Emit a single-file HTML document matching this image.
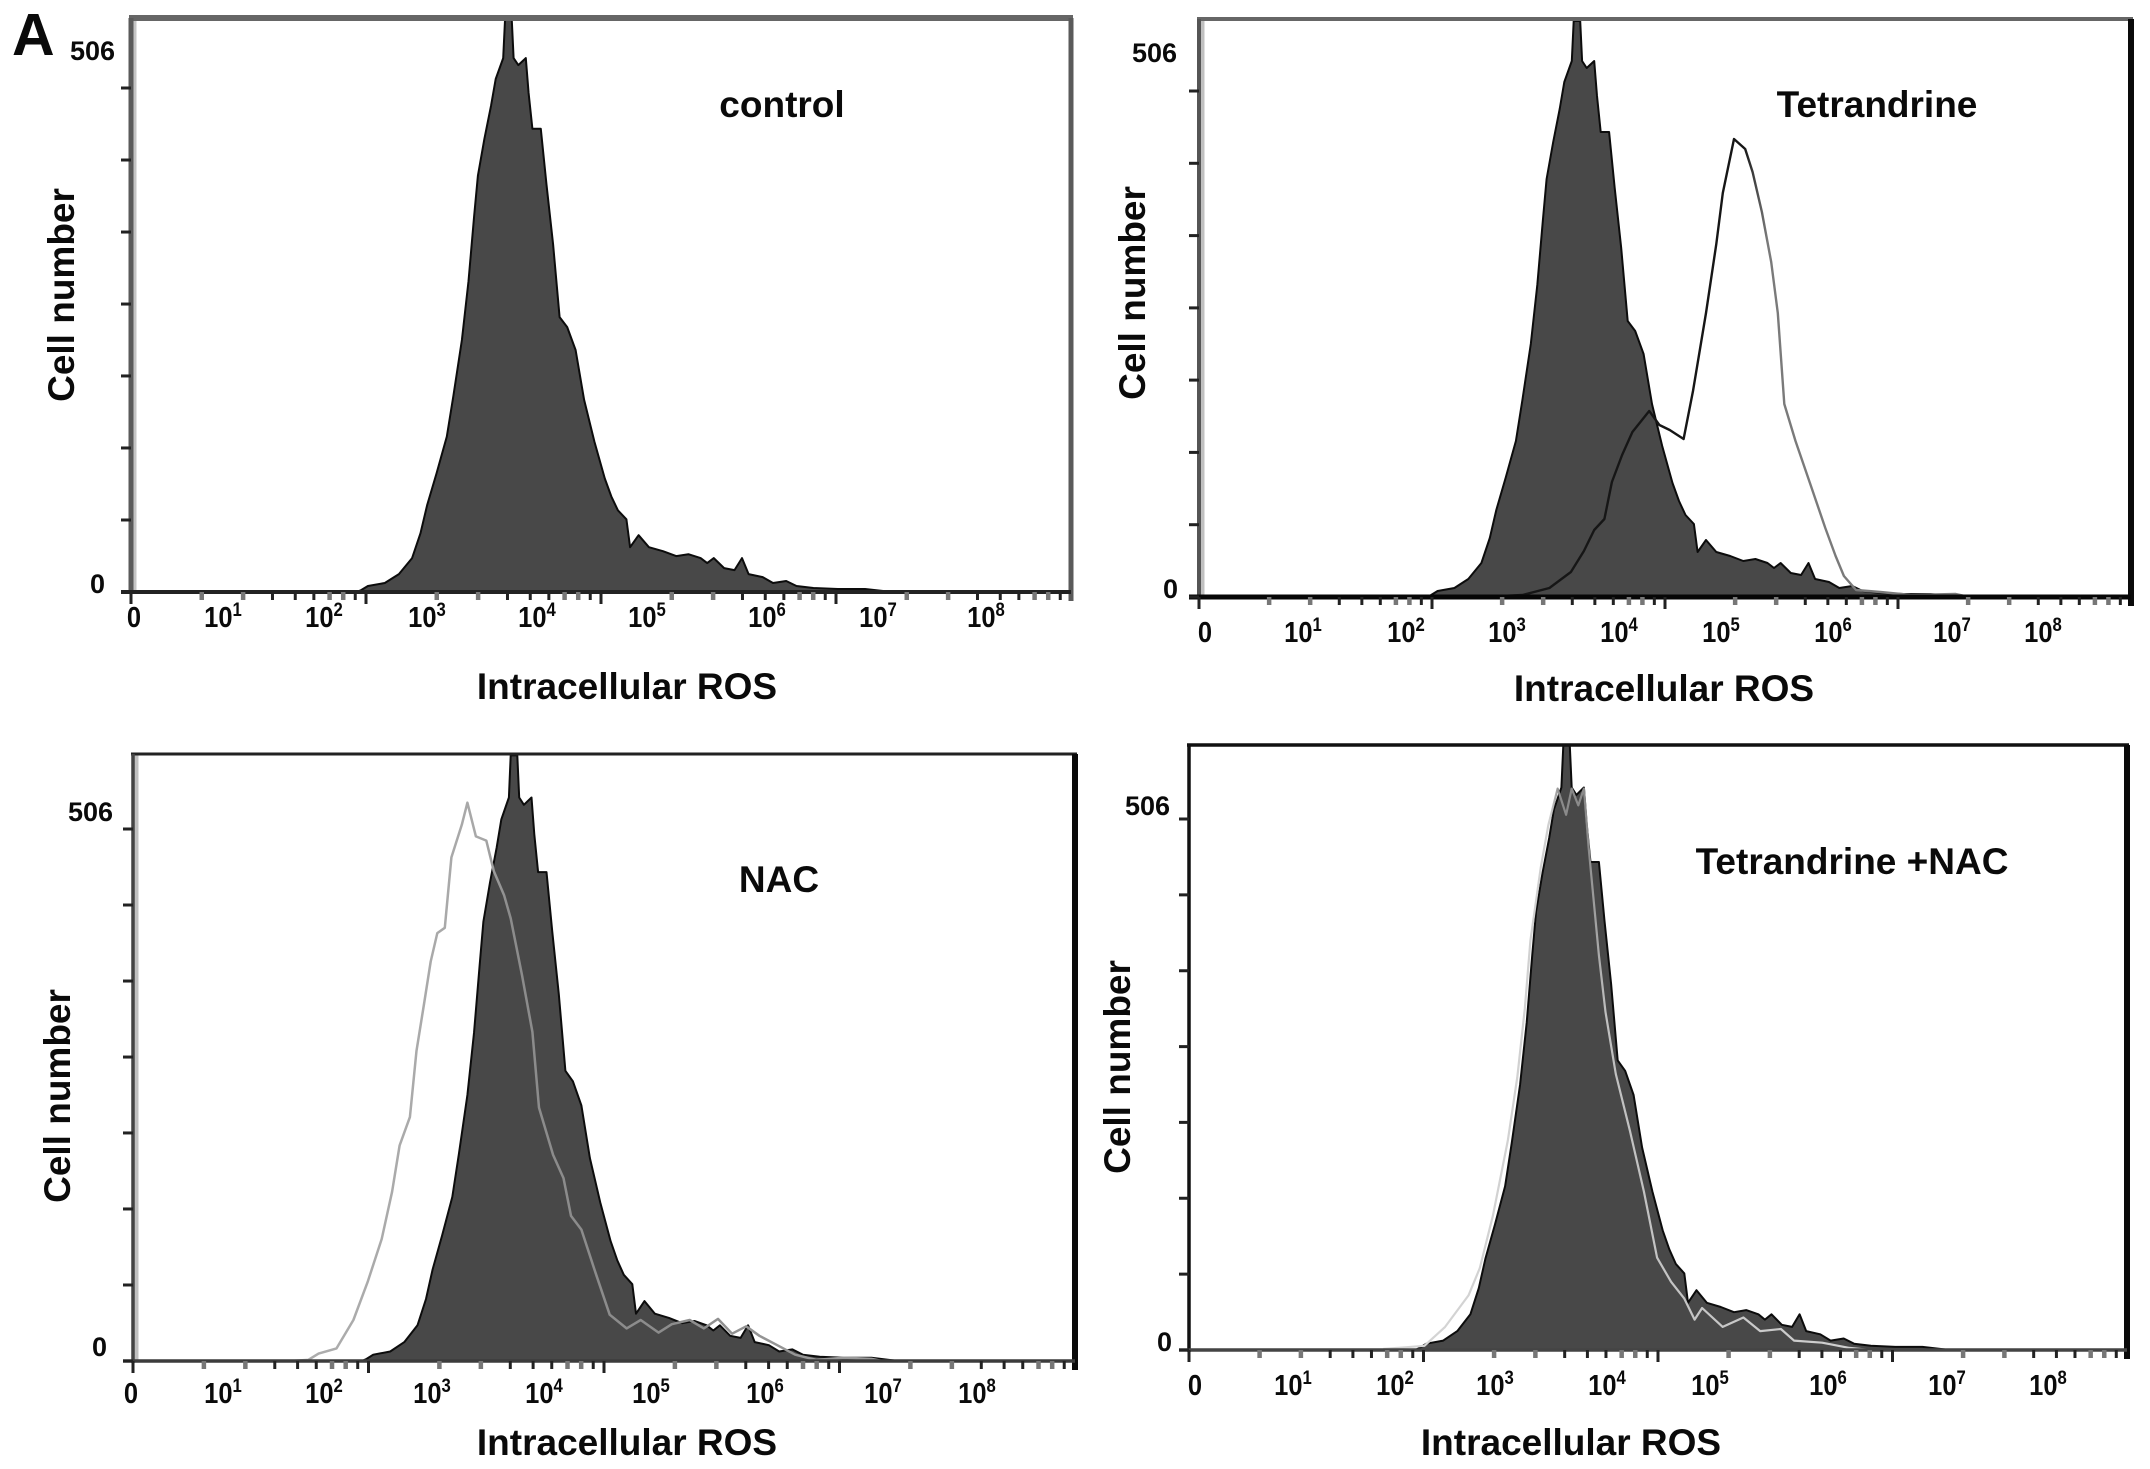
<!DOCTYPE html>
<html lang="en">
<head>
<meta charset="utf-8">
<title>Intracellular ROS flow cytometry histograms</title>
<style>
html,body{margin:0;padding:0;background:#fff;}
svg{display:block;}
text{font-family:"Liberation Sans",sans-serif;font-weight:bold;fill:#0a0a0a;}
</style>
</head>
<body>
<svg id="figure" xmlns="http://www.w3.org/2000/svg" width="2150" height="1469" viewBox="0 0 2150 1469">
<rect width="2150" height="1469" fill="#fff"/>
<defs id="figure-defs"></defs>
<text x="12" y="55" font-size="59">A</text>
</svg>
<script>
// Data. Channels run 0-1000 across each axis; values are cell counts.
const controlChannels = [0,240,245,252,270,285,299,308,315,325,336,343,352,359,365,369,376,383,388,396,398,405,407,412,420,423,427,436,442,449,456,464,473,482,493,504,511,518,527,531,540,551,566,580,593,606,613,620,631,642,650,657,672,683,697,708,726,752,781,810,1000];
const controlCounts = [0,0,2,6,9,18,34,59,87,119,156,197,253,312,377,418,455,488,515,536,576,576,536,529,536,501,465,465,409,349,276,266,243,193,151,114,96,82,73,45,57,45,41,36,38,34,29,34,24,22,34,18,15,9,11,6,4,3,3,0,0];
const tetrandrineChannels = [320,325,347,376,399,413,424,435,443,454,465,483,494,505,520,530,544,555,562,574,586,594,604,614,621,628,640,657,672,683,692,705,731,764,812,827];
const tetrandrineCounts = [0,1,2,9,25,46,67,78,115,142,165,186,172,167,158,206,284,353,404,458,448,425,385,335,284,193,156,110,69,41,21,7,5,2,3,0];
const nacChannels = [167,186,197,216,234,249,264,275,283,294,301,309,316,323,331,338,349,355,364,375,383,394,401,413,424,431,446,457,465,476,491,506,524,539,558,572,591,606,621,636,651,665,684,703,725,755,784,795];
const nacCounts = [0,1,7,12,39,75,116,161,205,232,295,340,380,407,412,479,510,531,499,495,466,443,421,367,313,241,196,174,138,125,84,44,31,39,27,35,39,31,40,26,33,24,15,6,1,3,2,0];
const tetNacChannels = [207,251,273,298,310,324,340,350,358,364,375,383,393,402,408,415,421,426,437,444,455,470,485,499,514,528,539,547,569,591,609,631,645,675,704,726];
const tetNacCounts = [1,4,22,52,78,128,200,260,325,390,460,500,535,510,535,519,535,479,376,322,263,209,151,88,65,49,29,40,22,31,18,20,9,7,2,0];

// Axis labels
const xTickExponents = ["0","1","2","3","4","5","6","7","8"];
const yTopLabel = "506";
const yBottomLabel = "0";
const yTickCounts = [0,72.3,144.6,216.9,289.1,361.4,433.7,506];
const logDecades = [0,1,2,3];
const logMultipliers = [1,2,3,4,5,6,7,8,9];

// Panel layout (pixels and styles), separate from the data above
const panels = [
  {id:"control",title:"control",left:131,right:1071,top:18,base:592,y506:88,shift:0,
   titleX:782,titleY:105,ylabX:62,ylabY:295,xlabX:627,xlabY:687,t506X:115,t506Y:50,t0X:105,t0Y:583,tickY:617,
   labelX:[134,223,324,427,537,647,767,878,986],
   frame:{top:["#666",6],left:["#5a5a5a",5],right:["#5a5a5a",5],base:["#222",4],inner:"#c4c4c4"},
   overlay:null},
  {id:"tetrandrine",title:"Tetrandrine",left:1199,right:2131,top:19,base:597,y506:91,shift:4,
   titleX:1877,titleY:105,ylabX:1133,ylabY:293,xlabX:1664,xlabY:689,t506X:1177,t506Y:52,t0X:1178,t0Y:588,tickY:632,
   labelX:[1205,1303,1406,1507,1619,1721,1833,1952,2043],
   frame:{top:["#666",4],left:["#555",4],right:["#0a0a0a",6],base:["#060606",5],inner:"#c0c0c0"},
   overlay:{ch:tetrandrineChannels,ct:tetrandrineCounts,w:2.4,name:"tetrandrine",
     grad:[[0,"#161616"],[585,"#161616"],[610,"#7a7a7a"],[1000,"#7a7a7a"]]}},
  {id:"nac",title:"NAC",left:133,right:1075,top:754,base:1361,y506:829,shift:3,
   titleX:779,titleY:880,ylabX:58,ylabY:1096,xlabX:627,xlabY:1443,t506X:113,t506Y:811,t0X:107,t0Y:1346,tickY:1393,
   labelX:[131,223,324,432,544,651,765,883,977],
   frame:{top:["#222",3],left:["#444",3.5],right:["#0a0a0a",6],base:["#3c3c3c",3.5],inner:"#c0c0c0"},
   overlay:{ch:nacChannels,ct:nacCounts,w:2.5,name:"nac",
     grad:[[0,"#b0b0b0"],[370,"#a8a8a8"],[400,"#8c8c8c"],[560,"#8c8c8c"],[1000,"#aaaaaa"]]}},
  {id:"tetrandrine-nac",title:"Tetrandrine +NAC",left:1189,right:2127,top:745,base:1350,y506:819,shift:1,
   titleX:1852,titleY:862,ylabX:1118,ylabY:1067,xlabX:1571,xlabY:1443,t506X:1170,t506Y:805,t0X:1172,t0Y:1341,tickY:1385,
   labelX:[1195,1293,1395,1495,1607,1710,1828,1947,2048],
   frame:{top:["#111",3.5],left:["#111",3.5],right:["#0a0a0a",6],base:["#444",3.5],inner:null},
   overlay:{ch:tetNacChannels,ct:tetNacCounts,w:2.2,name:"tetrandrine-nac",
     grad:[[0,"#dcdcdc"],[385,"#d0d0d0"],[395,"#8a8a8a"],[425,"#8a8a8a"],[445,"#c0c0c0"],[1000,"#e0e0e0"]]}}
];

const SVG_NS = "http://www.w3.org/2000/svg";
const root = document.getElementById("figure");
const defs = document.getElementById("figure-defs");

function make(tag, attrs, parent){
  const el = document.createElementNS(SVG_NS, tag);
  for (const k in attrs) el.setAttribute(k, attrs[k]);
  parent.appendChild(el);
  return el;
}

function drawPanel(p){
  const g = make("g", {}, root);
  
  

  const xFill = function(ch){ return p.left + (ch + p.shift) * (p.right - p.left) / 1000; };
  const xAxis = function(ch){ return p.left + ch * (p.right - p.left) / 1000; };
  const yScale = function(c){ return p.base - c * (p.base - p.y506) / 506; };

  // clip
  const clipId = "clip-" + p.id;
  const clip = make("clipPath", {id: clipId}, g);
  make("rect", {x:p.left, y:p.top, width:p.right-p.left, height:p.base-p.top+1}, clip);

  // filled control histogram
  let d = "M" + xFill(controlChannels[0]).toFixed(1) + " " + yScale(0).toFixed(1);
  controlChannels.forEach(function(ch,i){
    d += "L" + xFill(ch).toFixed(1) + " " + yScale(controlCounts[i]).toFixed(1);
  });
  d += "L" + xFill(controlChannels[controlChannels.length-1]).toFixed(1) + " " + yScale(0).toFixed(1) + "Z";
  const fill = make("path", {d:d, fill:"#484848", stroke:"#0c0c0c", "stroke-width":2, "stroke-linejoin":"round", "clip-path":"url(#"+clipId+")"}, g);
  
  

  // overlay outline
  if (p.overlay){
    const gradId = "grad-" + p.id;
    const grad = make("linearGradient", {id:gradId, gradientUnits:"userSpaceOnUse", x1:xAxis(0), y1:0, x2:xAxis(1000), y2:0}, defs);
    p.overlay.grad.forEach(function(s){
      make("stop", {offset:s[0]/1000, "stop-color":s[1]}, grad);
    });
    const pts = p.overlay.ch.map(function(ch,i){
      return xAxis(ch).toFixed(1) + "," + yScale(p.overlay.ct[i]).toFixed(1);
    }).join(" ");
    const line = make("polyline", {points:pts, fill:"none", stroke:"url(#"+gradId+")", "stroke-width":p.overlay.w, "stroke-linejoin":"round", "clip-path":"url(#"+clipId+")"}, g);
    
    
  }

  // frame
  const f = p.frame;
  if (f.inner){
    const inner = make("line", {x1:p.left+3.5, x2:p.left+3.5, y1:p.top, y2:p.base, stroke:f.inner, "stroke-width":4}, g);
    
    
  }
  const topLine = make("line", {x1:p.left-2, x2:p.right+2, y1:p.top, y2:p.top, stroke:f.top[0], "stroke-width":f.top[1]}, g);
  
  
  const leftLine = make("line", {x1:p.left, x2:p.left, y1:p.top, y2:p.base+2, stroke:f.left[0], "stroke-width":f.left[1]}, g);
  
  
  const rightLine = make("line", {x1:p.right, x2:p.right, y1:p.top, y2:p.base+9, stroke:f.right[0], "stroke-width":f.right[1]}, g);
  
  
  const baseLine = make("line", {x1:p.left-10, x2:p.right, y1:p.base, y2:p.base, stroke:f.base[0], "stroke-width":f.base[1]}, g);
  
  

  // x log ticks
  logDecades.forEach(function(dec){
    logMultipliers.forEach(function(m){
      const x = xAxis(250 * (dec + Math.log10(m)));
      const major = m === 1;
      const gray = (m === 2 || m === 3 || m === 7 || m === 8) && !major;
      const tick = make("line", {x1:x, x2:x, y1:p.base, y2:p.base + (major ? 12 : 8), stroke: gray ? "#777" : "#222", "stroke-width": gray ? 4.5 : 3}, g);
      
      
    });
  });

  // y ticks
  yTickCounts.forEach(function(c){
    const y = yScale(c);
    const tick = make("line", {x1:p.left-10, x2:p.left, y1:y, y2:y, stroke:"#222", "stroke-width":3}, g);
    
    
  });

  // y labels
  const lab506 = make("text", {x:p.t506X, y:p.t506Y+10, "font-size":27, "text-anchor":"end"}, g);
  lab506.textContent = yTopLabel;
  
  
  const lab0 = make("text", {x:p.t0X, y:p.t0Y+10, "font-size":27, "text-anchor":"end"}, g);
  lab0.textContent = yBottomLabel;
  
  

  // x tick labels
  xTickExponents.forEach(function(ex,i){
    const t = make("text", {x:0, y:0, "font-size":29, "text-anchor":"middle", transform:"translate("+p.labelX[i]+" "+(p.tickY+10)+") scale(0.88 1)"}, g);
    
    
    if (ex === "0"){
      t.textContent = "0";
    } else {
      t.appendChild(document.createTextNode("10"));
      const sup = make("tspan", {dy:-11, "font-size":19}, t);
      sup.textContent = ex;
    }
  });

  // titles
  const title = make("text", {x:p.titleX, y:p.titleY+12, "font-size":37, "text-anchor":"middle"}, g);
  title.textContent = p.title;
  
  
  const xt = make("text", {x:p.xlabX, y:p.xlabY+12, "font-size":37, "text-anchor":"middle"}, g);
  xt.textContent = "Intracellular ROS";
  
  
  const yt = make("text", {x:0, y:0, "font-size":37, "text-anchor":"middle", transform:"translate("+(p.ylabX+12)+" "+p.ylabY+") rotate(-90)"}, g);
  yt.textContent = "Cell number";
  
  
}

panels.forEach(drawPanel);
</script>
</body>
</html>
